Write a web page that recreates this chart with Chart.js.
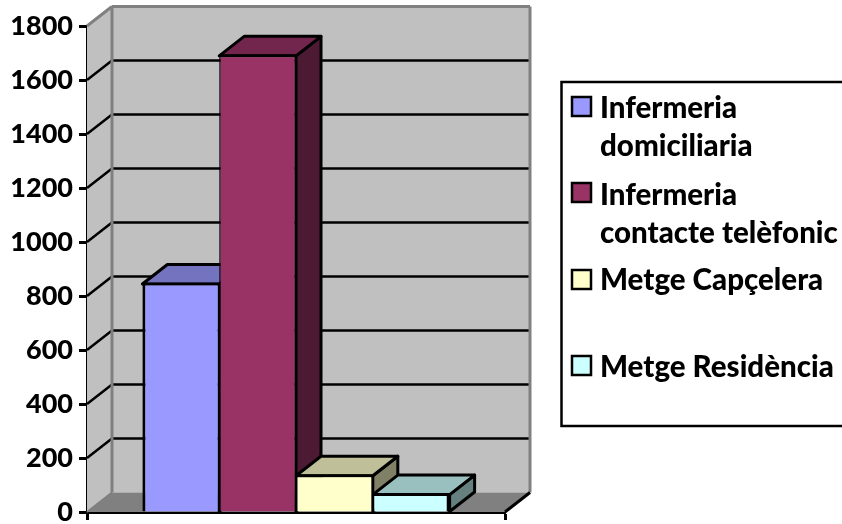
<!DOCTYPE html>
<html>
<head>
<meta charset="utf-8">
<title>Visites</title>
<script src="https://cdn.jsdelivr.net/npm/chart.js@4"></script>
<style>
    html, body { margin: 0; padding: 0; background: #fff; }
    canvas { display: block; }
</style>
</head>
<body>
<canvas id="chart" width="842" height="524"></canvas>
<script>
// dades
const categories = [''];
const seriesLabels = [
    ['Infermeria', 'domiciliaria'],
    ['Infermeria', 'contacte telèfonic'],
    ['Metge Capçelera'],
    ['Metge Residència']
];
const seriesValues = [[850], [1695], [140], [70]];
const seriesColors = [[153, 153, 255], [153, 51, 102], [255, 255, 204], [204, 255, 255]];
const yTicks = [0, 200, 400, 600, 800, 1000, 1200, 1400, 1600, 1800];

const FONT = 'Lato, "Open Sans", sans-serif';
// profunditat del "3D"
const DX = 25, DY = 19.5;
const WALL = '#c0c0c0', FLOOR = '#808080', EDGE = '#808080';

const rgb = (c, f) => `rgb(${c.map(v => Math.round(v * f)).join(',')})`;

function poly(ctx, pts, fill, stroke, lw) {
    ctx.beginPath();
    pts.forEach((p, i) => i ? ctx.lineTo(p[0], p[1]) : ctx.moveTo(p[0], p[1]));
    ctx.closePath();
    if (fill) { ctx.fillStyle = fill; ctx.fill(); }
    if (stroke) { ctx.strokeStyle = stroke; ctx.lineWidth = lw; ctx.lineJoin = 'round'; ctx.stroke(); }
}

function line(ctx, x1, y1, x2, y2, color, lw) {
    ctx.beginPath();
    ctx.moveTo(x1, y1);
    ctx.lineTo(x2, y2);
    ctx.strokeStyle = color;
    ctx.lineWidth = lw;
    ctx.stroke();
}

// parets, terra i graella
const wallsPlugin = {
    id: 'walls',
    beforeDatasetsDraw(chart) {
        const ctx = chart.ctx, a = chart.chartArea, y = chart.scales.y;
        ctx.save();
        poly(ctx, [[a.left, a.bottom], [a.left, a.top], [a.left + DX, a.top - DY], [a.left + DX, a.bottom - DY]], WALL);
        poly(ctx, [[a.left + DX, a.top - DY], [a.right + DX, a.top - DY], [a.right + DX, a.bottom - DY], [a.left + DX, a.bottom - DY]], WALL);
        poly(ctx, [[a.left, a.bottom], [a.left + DX, a.bottom - DY], [a.right + DX, a.bottom - DY], [a.right, a.bottom]], FLOOR);

        yTicks.slice(1, -1).forEach(v => {
            const py = y.getPixelForValue(v);
            line(ctx, a.left, py, a.left + DX, py - DY, '#000', 2.5);
            line(ctx, a.left + DX, py - DY, a.right + DX, py - DY, '#000', 2.5);
        });

        line(ctx, a.left, a.top, a.left + DX, a.top - DY, EDGE, 3);
        line(ctx, a.left + DX, a.top - DY, a.right + DX, a.top - DY, EDGE, 3);
        line(ctx, a.right + DX, a.top - DY, a.right + DX, a.bottom - DY, EDGE, 3);
        line(ctx, a.left + DX, a.top - DY, a.left + DX, a.bottom - DY, EDGE, 3);
        line(ctx, a.left, a.bottom, a.left + DX, a.bottom - DY, EDGE, 2);
        line(ctx, a.right, a.bottom, a.right + DX, a.bottom - DY, '#000', 3);

        // cares de dalt i laterals, d'esquerra a dreta
        seriesColors.forEach((c, i) => {
            const bar = chart.getDatasetMeta(i).data[0];
            const l = bar.x - bar.width / 2, r = bar.x + bar.width / 2;
            const t = bar.y + 1.5, b = bar.base;
            poly(ctx, [[r, t], [r + DX, t - DY], [r + DX, b - DY], [r, b]], rgb(c, 0.5), '#000', 3);
            poly(ctx, [[l, t], [l + DX, t - DY], [r + DX, t - DY], [r, t]], rgb(c, 0.75), '#000', 3);
        });
        ctx.restore();
    }
};

// llegenda
const LEGEND_ROWS = [[97, 118], [183, 205], [270, 290], [356, 377]];
const legendPlugin = {
    id: 'boxLegend',
    afterDraw(chart) {
        const ctx = chart.ctx;
        ctx.save();
        ctx.strokeStyle = '#000';
        ctx.lineWidth = 2.5;
        ctx.beginPath();
        ctx.moveTo(844, 82);
        ctx.lineTo(561.5, 82);
        ctx.lineTo(561.5, 426);
        ctx.lineTo(844, 426);
        ctx.stroke();

        ctx.font = '900 29.5px ' + FONT;
        ctx.textAlign = 'left';
        ctx.textBaseline = 'alphabetic';
        seriesLabels.forEach((lines, i) => {
            const [boxTop, base] = LEGEND_ROWS[i];
            ctx.fillStyle = rgb(seriesColors[i], 1);
            ctx.fillRect(572, boxTop, 19, 19);
            ctx.strokeRect(572, boxTop, 19, 19);
            ctx.fillStyle = '#000';
            lines.forEach((t, j) => ctx.fillText(t, 600, base + j * 37.5));
        });
        ctx.restore();
    }
};

new Chart(document.getElementById('chart'), {
    type: 'bar',
    data: {
        labels: categories,
        datasets: seriesLabels.map((label, i) => ({
            label: label.join(' '),
            data: seriesValues[i],
            backgroundColor: rgb(seriesColors[i], 1),
            borderColor: '#000',
            // les vores dels extrems no es toquen amb cap altra barra
            borderWidth: { top: 3, left: i === 0 ? 3 : 1.5, right: i === seriesLabels.length - 1 ? 3 : 1.5, bottom: 0 },
            borderSkipped: false,
            categoryPercentage: 0.735,
            barPercentage: 1
        }))
    },
    options: {
        responsive: false,
        animation: false,
        layout: { padding: { top: 26, right: 337, bottom: 0, left: 0 } },
        plugins: { legend: { display: false }, tooltip: { enabled: false } },
        scales: {
            x: {
                afterFit: s => { s.height = 12; },
                ticks: { display: false },
                grid: { drawOnChartArea: false, tickLength: 8, tickColor: '#000', tickWidth: 3 },
                border: { color: '#000', width: 3 }
            },
            y: {
                min: 0,
                max: 1800,
                afterFit: s => { s.width = 87; s.paddingTop = 0; s.paddingBottom = 0; },
                afterBuildTicks: s => { s.ticks = yTicks.map(value => ({ value })); },
                ticks: {
                    color: '#000',
                    padding: 6,
                    font: { family: FONT, size: 27, weight: '900' },
                    callback: v => String(v)
                },
                grid: { drawOnChartArea: false, tickLength: 8, tickColor: '#000', tickWidth: 3 },
                border: { color: '#000', width: 3 }
            }
        }
    },
    plugins: [wallsPlugin, legendPlugin]
});
</script>
</body>
</html>
